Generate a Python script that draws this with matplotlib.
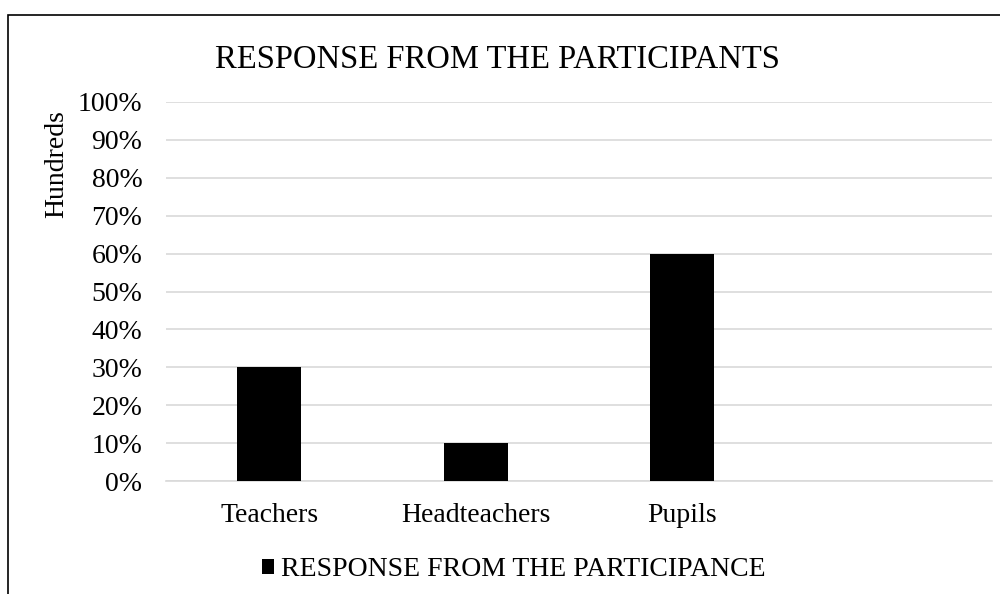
"""
Bar chart of the share of responses from each participant group.
"""

import matplotlib.pyplot as plt
from matplotlib.patches import Rectangle
from matplotlib.ticker import PercentFormatter

# --- Data ---
CATEGORIES = ["Teachers", "Headteachers", "Pupils", ""]
RESPONSES = [0.30, 0.10, 0.60, 0.0]
Y_TICKS = [0.0, 0.1, 0.2, 0.3, 0.4, 0.5, 0.6, 0.7, 0.8, 0.9, 1.0]

TITLE = "RESPONSE FROM THE PARTICIPANTS"
SERIES_LABEL = "RESPONSE FROM THE PARTICIPANCE"
UNITS_LABEL = "Hundreds"

GRID_COLOR = "#d9d9d9"
plt.rcParams['font.family'] = ['Liberation Serif', 'DejaVu Serif']

fig = plt.figure(figsize=(10, 5.94), dpi=100)
ax = fig.add_axes([0.166, 0.1902, 0.826, 0.6381])

positions = list(range(len(CATEGORIES)))
ax.bar(positions, RESPONSES, width=0.31, color="black", label=SERIES_LABEL, zorder=3)

ax.set_xlim(-0.5, len(CATEGORIES) - 0.5)
ax.set_ylim(0, 1)
ax.set_xticks(positions)
ax.set_xticklabels(CATEGORIES, fontsize=20)
ax.set_yticks(Y_TICKS)
ax.yaxis.set_major_formatter(PercentFormatter(1.0, decimals=0))
ax.tick_params(axis='y', length=0, pad=17, labelsize=20)
ax.tick_params(axis='x', length=0, pad=16)

ax.grid(axis='y', color=GRID_COLOR, linewidth=1.2, zorder=0)
for side in ["top", "right", "left"]:
    ax.spines[side].set_visible(False)
ax.spines["bottom"].set_color(GRID_COLOR)
ax.spines["bottom"].set_linewidth(1.2)

# title and display-unit label placed the way the spreadsheet lays them out
fig.text(0.497, 0.899, TITLE, ha='center', va='center', fontsize=23.5)
fig.text(0.057, 0.724, UNITS_LABEL, ha='center', va='center', rotation=90, fontsize=20)

ax.legend(loc='center', bbox_to_anchor=(0.514, 0.041), bbox_transform=fig.transFigure,
          frameon=False, fontsize=20, handlelength=0.45, handleheight=0.45,
          handletextpad=0.25)

# chart area border (runs off the right and bottom edges)
fig.patches.append(Rectangle((0.008, -0.1), 2.0, 1.1 - 15 / 594, transform=fig.transFigure,
                             fill=False, edgecolor="black", linewidth=1.2))

fig.savefig("out.png", dpi=100)
